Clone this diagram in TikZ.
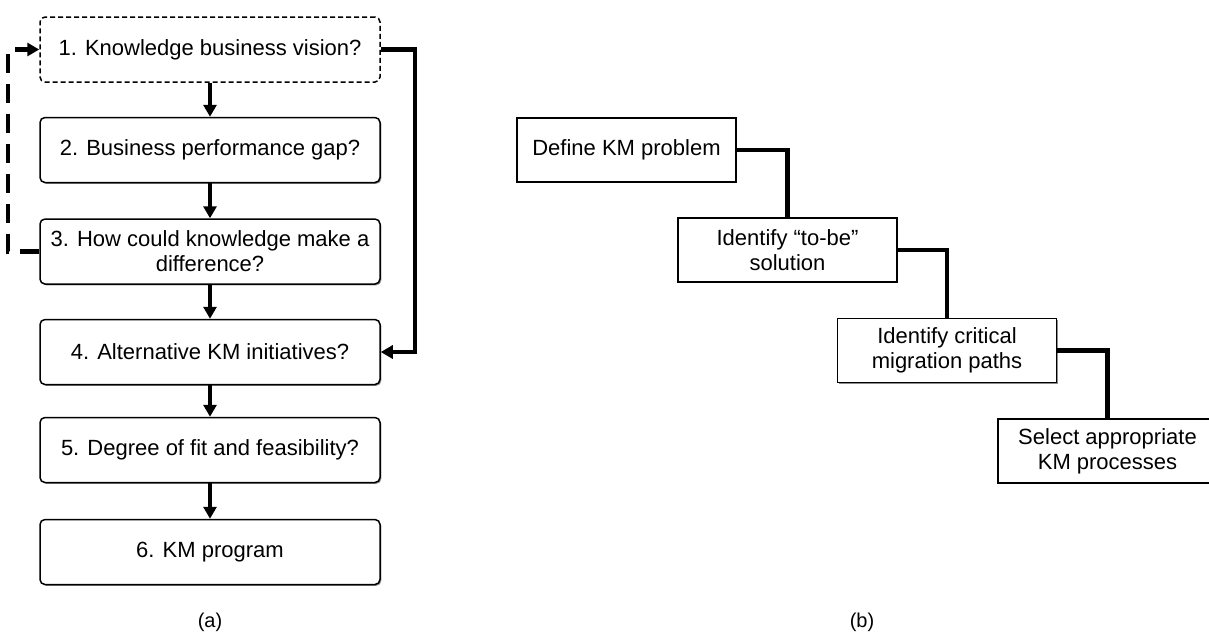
\documentclass[tikz,border=0pt]{standalone}
\usepackage{fontspec}
\setmainfont{Liberation Sans}
\usetikzlibrary{arrows.meta,shadows}

\begin{document}
\begin{tikzpicture}[x=1pt,y=-1pt,
  txt/.style={font=\fontsize{22}{25}\selectfont, align=center, inner sep=0pt},
  softshadow/.style={drop shadow={shadow xshift=1.3pt, shadow yshift=-1.3pt, fill=black!45, opacity=1}},
  qbox/.style={txt, draw, fill=white, rounded corners=5pt, line width=1.5pt,
    minimum width=340pt, minimum height=65pt},
  sbox/.style={txt, draw, fill=white, line width=1.4pt,
    minimum width=219pt, minimum height=64pt},
  flow/.style={line width=4.2pt, -{Triangle[length=12pt,width=13pt]}},
  loopback/.style={line width=4.3pt, dash pattern=on 19pt off 11pt,
    -{Triangle[length=12pt,width=13pt]}},
  link/.style={line width=4.3pt},
  caption/.style={font=\fontsize{20}{24}\selectfont, inner sep=0pt}
]
\useasboundingbox (0,0) rectangle (1209,633);

% (a) question sequence
\node[qbox, dashed, dash pattern=on 5pt off 3pt] (q1) at (210,49.5) {1. Knowledge business vision?};
\node[qbox, softshadow] (q2) at (210,150)  {2. Business performance gap?};
\node[qbox, softshadow] (q3) at (210,251.5) {3. How could knowledge make a\\difference?};
\node[qbox, softshadow] (q4) at (210,352)  {4. Alternative KM initiatives?};
\node[qbox, softshadow] (q5) at (210,450)  {5. Degree of fit and feasibility?};
\node[qbox, softshadow] (q6) at (210,552)  {6. KM program};

\draw[flow] (q1) -- (q2);
\draw[flow] (q2) -- (q3);
\draw[flow] (q3) -- (q4);
\draw[flow] (q4) -- (q5);
\draw[flow] (q5) -- (q6);

% shortcut from the vision straight to the initiatives
\draw[flow, line width=4.3pt] (q1.east) -- ++(34,0) |- (q4.east);
% feedback loop back to the vision
\draw[loopback] (q3.west) -- ++(-31,0) |- (q1.west);

\node[caption] (capa) at (210,622) {(a)};

% (b) staircase of KM steps
\node[sbox, softshadow] (s1) at (626.5,150)  {Define KM problem};
\node[sbox, softshadow] (s2) at (787.5,250)  {Identify “to-be”\\solution};
\node[sbox, softshadow] (s3) at (947,350.5)  {Identify critical\\migration paths};
\node[sbox, softshadow] (s4) at (1107.5,451) {Select appropriate\\KM processes};

\draw[link] (s1.east) -| (s2.north);
\draw[link] (s2.east) -| (s3.north);
\draw[link] (s3.east) -| (s4.north);

\node[caption] (capb) at (862,622) {(b)};
\end{tikzpicture}
\end{document}
